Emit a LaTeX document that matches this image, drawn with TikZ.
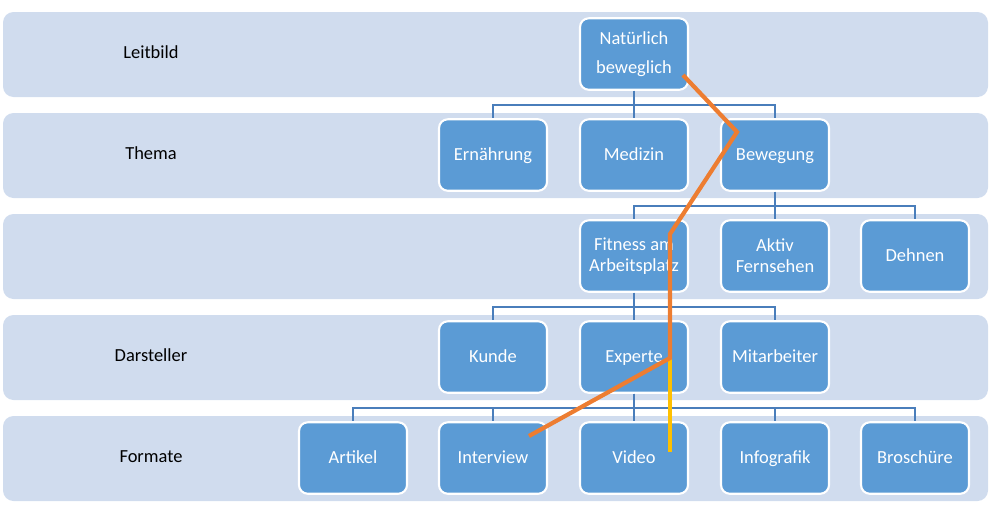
\documentclass[tikz,border=0pt]{standalone}
\usepackage{fontspec}
\setmainfont{Carlito}
\usepackage{xcolor}
\usepackage{tikz}
\usetikzlibrary{arrows.meta,calc,positioning}
\definecolor{bandGray}{HTML}{D0DCEE}
\definecolor{boxBlue}{HTML}{5B9BD5}
\definecolor{tieBlue}{HTML}{4A7EBB}
\definecolor{pathOrange}{HTML}{ED7D31}
\definecolor{pathYellow}{HTML}{FFC000}

\tikzset{
  band/.style={fill=bandGray,draw=none,rounded corners=6pt},
  lvl/.style={font=\fontsize{10.5}{12}\selectfont,text=black,
    text height=8pt,text depth=1.8pt},
  topic/.style={fill=boxBlue,draw=white,line width=1.2pt,rounded corners=5pt,
    minimum width=2.16cm,minimum height=1.43cm,inner sep=0pt,align=center,
    text=white,font=\fontsize{10.5}{12}\selectfont},
  one/.style={topic,text height=8pt,text depth=1.8pt},
  tie/.style={tieBlue,line width=1pt},
  route/.style={pathOrange,line width=2.4pt,line join=miter},
}

\begin{document}
\begin{tikzpicture}[x=0.02cm,y=-0.02cm,>=Latex]
    \useasboundingbox (0,0) rectangle (1001,512);
    % bands
    \foreach \i in {0,...,4}
      \fill[band] (3,12+101*\i) rectangle (988,97+101*\i);
    \node[lvl] (l1) at (151,53) {Leitbild};
    \node[lvl] (l2) at (151,154) {Thema};
    \node[lvl] (l4) at (151,356) {Darsteller};
    \node[lvl] (l5) at (151,457) {Formate};

    % boxes
    \node[topic] (nat) at (634,54) {Natürlich\\[4.5pt]beweglich};
    \node[one] (ern) at (493,155) {Ernährung};
    \node[one] (med) at (634,155) {Medizin};
    \node[one] (bew) at (775,155) {Bewegung};
    \node[topic] (fit) at (634,256) {Fitness am\\Arbeitsplatz};
    \node[topic] (akt) at (775,256) {Aktiv\\Fernsehen};
    \node[one] (deh) at (915,256) {Dehnen};
    \node[one] (kun) at (493,357) {Kunde};
    \node[one] (exp) at (634,357) {Experte};
    \node[one] (mit) at (775,357) {Mitarbeiter};
    \node[one] (art) at (353,458) {Artikel};
    \node[one] (int) at (493,458) {Interview};
    \node[one] (vid) at (634,458) {Video};
    \node[one] (inf) at (775,458) {Infografik};
    \node[one] (bro) at (915,458) {Broschüre};

    % connectors
    \foreach \c in {ern,med,bew}
      \draw[tie] (nat.south) -- ++(0,14) -| (\c.north);
    \foreach \c in {fit,akt,deh}
      \draw[tie] (bew.south) -- ++(0,14) -| (\c.north);
    \foreach \c in {kun,exp,mit}
      \draw[tie] (fit.south) -- ++(0,14) -| (\c.north);
    \foreach \c in {art,int,vid,inf,bro}
      \draw[tie] (exp.south) -- ++(0,14) -| (\c.north);

    % route
    \coordinate (r0) at (683,75);
    \coordinate (r1) at (737,132);
    \coordinate (r2) at (670,234);
    \coordinate (r3) at (670,358);
    \coordinate (r4) at (529,436);
    \coordinate (r5) at (670,452);
    \draw[pathYellow,line width=2.4pt] (r3) -- (r5);
    \draw[route] (r0) -- (r1) -- (r2) -- (r3) -- (r4);
  \end{tikzpicture}
\end{document}
